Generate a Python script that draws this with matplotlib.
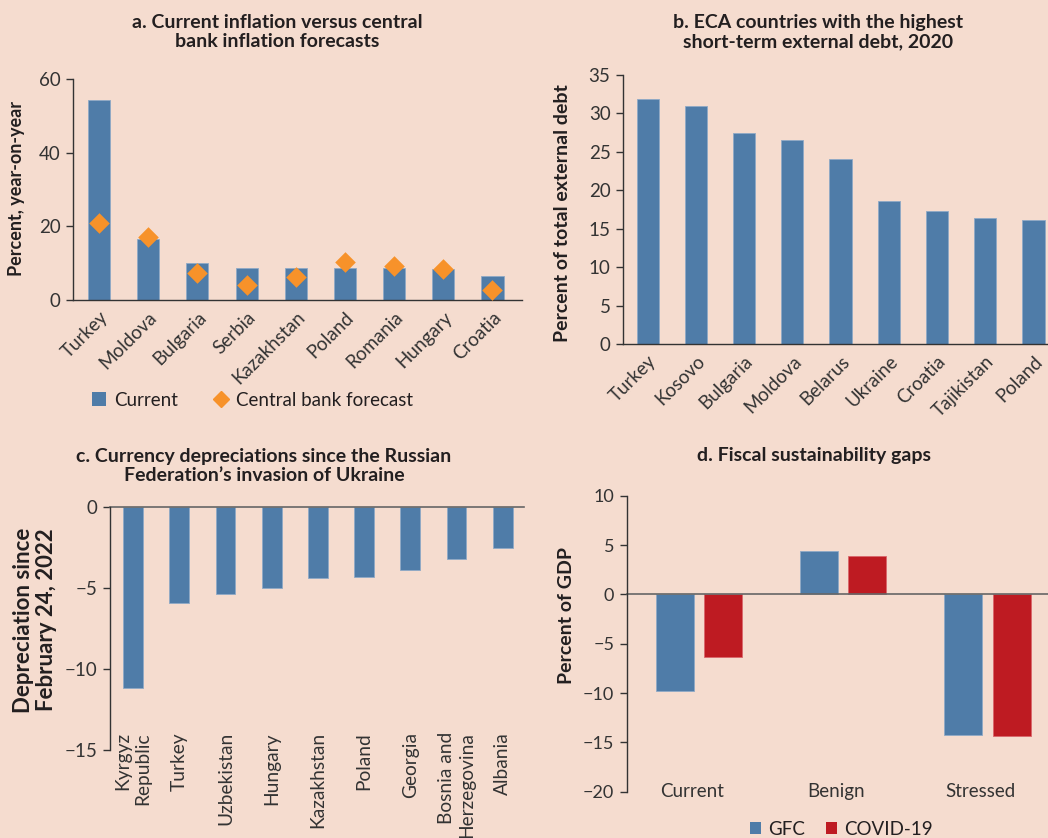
import matplotlib
matplotlib.use("Agg")
import matplotlib.pyplot as plt
from matplotlib.patches import Patch
from matplotlib.lines import Line2D
import numpy as np

# ---------------- data ----------------
a_countries = ["Turkey", "Moldova", "Bulgaria", "Serbia", "Kazakhstan",
               "Poland", "Romania", "Hungary", "Croatia"]
a_current = [54.3, 16.6, 10.0, 8.8, 8.8, 8.6, 8.6, 8.3, 6.4]
a_forecast = [21.0, 17.2, 7.4, 4.1, 6.2, 10.2, 9.3, 8.3, 2.8]

b_countries = ["Turkey", "Kosovo", "Bulgaria", "Moldova", "Belarus",
               "Ukraine", "Croatia", "Tajikistan", "Poland"]
b_values = [31.8, 31.0, 27.4, 26.5, 24.0, 18.6, 17.3, 16.4, 16.1]

c_countries = ["Kyrgyz\nRepublic", "Turkey", "Uzbekistan", "Hungary",
               "Kazakhstan", "Poland", "Georgia", "Bosnia and\nHerzegovina",
               "Albania"]
c_values = [-11.2, -5.9, -5.4, -5.0, -4.4, -4.3, -3.9, -3.2, -2.55]

d_scenarios = ["Current", "Benign", "Stressed"]
d_gfc = [-9.8, 4.4, -14.3]
d_covid = [-6.3, 3.85, -14.4]

# ---------------- style ----------------
BG = "#F5DCCF"
BLUE = "#4F7CA8"
ORANGE = "#F7922A"
RED = "#BE1B22"
TXT = "#231F20"
TICK = "#333333"
FONT = ["Lato", "DejaVu Sans"]
plt.rcParams["font.family"] = FONT
plt.rcParams["axes.unicode_minus"] = True

W, H = 1048, 838
fig = plt.figure(figsize=(W / 100, H / 100), dpi=100, facecolor=BG)
TITLE_FS = 14


def add_axes_px(left, top, right, bottom):
    ax = fig.add_axes([left / W, 1 - bottom / H, (right - left) / W, (bottom - top) / H])
    ax.set_facecolor(BG)
    ax.patch.set_alpha(0)
    for s in ["top", "right"]:
        ax.spines[s].set_visible(False)
    ax.spines["left"].set_color(TICK)
    ax.spines["bottom"].set_color(TICK)
    ax.spines["left"].set_linewidth(1.0)
    ax.spines["bottom"].set_linewidth(1.0)
    ax.tick_params(axis="y", direction="out", length=5, width=1, color=TICK,
                   labelcolor=TICK, pad=4)
    ax.tick_params(axis="x", length=0, labelcolor=TICK)
    return ax


def ftext(xpx, ypx, s, **kw):
    fig.text(xpx / W, 1 - ypx / H, s, **kw)


# ---------------- panel a ----------------
axa = add_axes_px(73, 79, 522, 300)
xa = np.arange(len(a_countries))
axa.bar(xa, a_current, width=0.45, color=BLUE, edgecolor="#8FA9C6", linewidth=0.6)
axa.scatter(xa, a_forecast, marker="D", s=110, color=ORANGE, zorder=3, linewidths=0)
axa.set_xlim(-0.53, 8.6)
axa.set_ylim(0, 60)
axa.set_yticks([0, 20, 40, 60])
axa.set_xticks(xa)
axa.set_xticklabels(a_countries, rotation=45, ha="right", rotation_mode="anchor",
                    fontsize=13.5)
axa.tick_params(axis="x", pad=6)
axa.tick_params(axis="y", labelsize=13.5)
ftext(277, 32, "a. Current inflation versus central\nbank inflation forecasts",
      ha="center", va="center", fontsize=TITLE_FS, fontweight="bold", color=TXT,
      linespacing=1.2)
ftext(17, 189, "Percent, year-on-year", rotation=90, ha="center", va="center",
      fontsize=13, fontweight="bold", color=TXT)
leg_handles = [Patch(facecolor=BLUE, edgecolor="none", label="Current"),
               Line2D([], [], marker="D", linestyle="none", color=ORANGE,
                      markersize=8.5, label="Central bank forecast")]
fig.legend(handles=leg_handles, loc="center left",
           bbox_to_anchor=(75 / W, 1 - 400 / H), ncol=2, frameon=False,
           fontsize=13.5, handlelength=0.75, handleheight=0.75, handletextpad=0.45,
           columnspacing=1.9, labelcolor=TXT)

# ---------------- panel b ----------------
axb = add_axes_px(623, 74.7, 1048, 344.3)
xb = np.arange(len(b_countries))
axb.bar(xb, b_values, width=0.46, color=BLUE, edgecolor="#8FA9C6", linewidth=0.6)
axb.set_xlim(-0.51, 8.3)
axb.set_ylim(0, 35)
axb.set_yticks(range(0, 36, 5))
axb.set_xticks(xb)
axb.set_xticklabels(b_countries, rotation=45, ha="right", rotation_mode="anchor",
                    fontsize=13.5)
axb.tick_params(axis="x", pad=6)
axb.tick_params(axis="y", labelsize=13.5)
ftext(818, 32, "b. ECA countries with the highest\nshort-term external debt, 2020",
      ha="center", va="center", fontsize=TITLE_FS, fontweight="bold", color=TXT,
      linespacing=1.2)
ftext(563, 213, "Percent of total external debt", rotation=90, ha="center",
      va="center", fontsize=14, fontweight="bold", color=TXT)

# ---------------- panel c ----------------
axc = add_axes_px(110, 507, 524, 750)
xc = np.arange(len(c_countries))
axc.bar(xc, c_values, width=0.43, color=BLUE, edgecolor="#8FA9C6", linewidth=0.6)
axc.set_xlim(-0.5, 8.46)
axc.set_ylim(-15, 0)
axc.set_yticks([-15, -10, -5, 0])
axc.spines["bottom"].set_visible(False)
axc.axhline(0, color="#666666", linewidth=1.2, clip_on=False)
axc.set_xticks([])
axc.tick_params(axis="y", labelsize=13.5)
for i, lab in enumerate(c_countries):
    axc.text(i, -13.9, lab, rotation=90, ha="center", va="top", fontsize=13.8,
             color=TICK, multialignment="right", linespacing=1.2, clip_on=False)
ftext(264, 466, "c. Currency depreciations since the Russian\nFederation\u2019s invasion of Ukraine",
      ha="center", va="center", fontsize=TITLE_FS, fontweight="bold", color=TXT,
      linespacing=1.2)
ftext(35, 620, "Depreciation since\nFebruary 24, 2022", rotation=90, ha="center",
      va="center", fontsize=16, fontweight="bold", color=TXT, linespacing=1.12)

# ---------------- panel d ----------------
axd = add_axes_px(626.7, 495.7, 1048, 791.7)
xd = np.arange(len(d_scenarios))
off, bw = 0.168, 0.264
axd.bar(xd - off, d_gfc, width=bw, color=BLUE, edgecolor="#8FA9C6", linewidth=0.6,
        label="GFC")
axd.bar(xd + off, d_covid, width=bw, color=RED, edgecolor="#D9666B", linewidth=0.6,
        label="COVID-19")
axd.set_xlim(-0.5, 2.42)
axd.set_ylim(-20, 10)
axd.set_yticks(range(-20, 11, 5))
axd.spines["bottom"].set_visible(False)
axd.axhline(0, color="#666666", linewidth=1.2, clip_on=False)
axd.set_xticks([])
axd.tick_params(axis="y", labelsize=13)
for i, lab in enumerate(d_scenarios):
    axd.text(i - 0.05, -20, lab, ha="center", va="center", fontsize=13.5,
             color=TICK)
ftext(814, 455, "d. Fiscal sustainability gaps", ha="center", va="center",
      fontsize=TITLE_FS, fontweight="bold", color=TXT)
ftext(566, 615, "Percent of GDP", rotation=90, ha="center", va="center",
      fontsize=14, fontweight="bold", color=TXT)
fig.legend(handles=[Patch(facecolor=BLUE, label="GFC"),
                    Patch(facecolor=RED, label="COVID-19")],
           loc="center left", bbox_to_anchor=(733 / W, 1 - 829 / H), ncol=2,
           frameon=False, fontsize=13.5, handlelength=0.6, handleheight=0.6,
           handletextpad=0.35, columnspacing=1.15, labelcolor=TXT)

fig.savefig("out.png", dpi=100, facecolor=BG)
